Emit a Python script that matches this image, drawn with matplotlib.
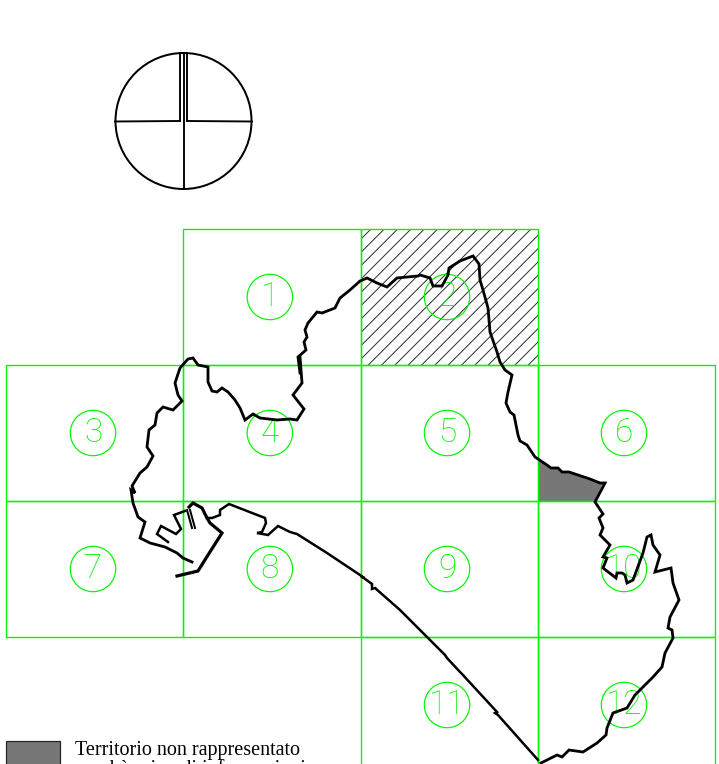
import matplotlib
matplotlib.use("Agg")
import matplotlib.pyplot as plt
from matplotlib.patches import Circle, Polygon, Rectangle

W, H, DPI = 719, 764, 120
GREEN = "#00f500"

# sheet index: left, top, width, height (map units follow the reference raster)
sheet_labels = ["1", "2", "3", "4", "5", "6", "7", "8", "9", "10", "11", "12"]
sheet_x = [183.2, 360.5, 6, 183.2, 360.5, 537.5, 6, 183.2, 360.5, 537.5, 360.5, 537.5]
sheet_y = [229, 229, 365, 365, 365, 365, 501, 501, 501, 501, 637, 637]
sheet_w = [177.3, 177, 177.2, 177.3, 177, 177, 177.2, 177.3, 177, 177, 177, 177]
sheet_h = [136, 136, 136, 136, 136, 136, 136, 136, 136, 136, 136, 136]
hatched_sheet = "2"

coast_x = [300, 302, 293, 304, 297, 290, 277, 260, 253, 245, 240, 235, 228, 222, 217, 212, 208, 208, 198, 193, 188,
           180, 175, 178, 182, 173, 163, 157, 155, 149, 147, 153, 147, 140, 132, 135, 131, 133, 138, 145, 140, 150,
           165, 177, 183, 192]
coast_y = [357, 383, 395, 409, 420, 419, 420, 418, 414, 420, 408, 400, 392, 388, 392, 391, 382, 367, 365, 358, 359,
           368, 383, 395, 401, 410, 407, 413, 425, 430, 447, 456, 467, 473, 486, 493, 490, 503, 517, 522, 538, 543,
           547, 553, 558, 562]

basin_x = [168, 157, 161, 176, 181, 174, 185]
basin_y = [542, 534, 526, 534, 529, 515, 511]

pier_a_x = [187, 192]
pier_a_y = [510, 528]
pier_b_x = [190, 195]
pier_b_y = [510, 528]

mole_x = [177, 198, 208, 222, 210, 207, 202, 193, 189]
mole_y = [576, 571, 555, 533, 523, 518, 508, 503, 507]

harbour_x = [207, 212, 220, 220, 229, 265, 266, 262, 257, 268, 278, 290, 297, 327, 360, 364, 361, 372, 372, 375, 400,
             428, 445, 447, 460, 462, 497, 495, 498, 538]
harbour_y = [518, 518, 515, 510, 504, 518, 523, 532, 533, 535, 526, 532, 534, 553, 575, 578, 576, 584, 589, 588, 610,
             638, 655, 658, 672, 674, 712, 713, 715, 760]

east_x = [541, 557, 562, 569, 583, 597, 606, 607, 613, 627, 635, 653, 662, 665, 673, 672, 668, 670, 679, 673, 671,
          655, 660, 653, 651, 647, 643, 633, 627, 625, 622, 617, 616, 603, 607, 603, 610, 600, 603, 599, 603, 595,
          605, 600, 590, 569, 562, 558, 551, 547, 538, 535, 527, 520, 518, 514, 510, 506, 508, 512, 505, 500, 497,
          490, 488, 483, 480, 479, 473, 460, 449, 448, 442, 433, 430, 420, 418, 397, 387, 377, 367, 360, 350, 340,
          335, 322, 317, 308, 305, 307, 304, 306, 298, 300]
east_y = [763, 755, 757, 750, 752, 743, 735, 728, 713, 708, 695, 677, 667, 653, 638, 630, 628, 617, 600, 583, 568,
          572, 555, 545, 535, 537, 553, 580, 583, 575, 573, 573, 578, 568, 558, 557, 545, 535, 528, 518, 514, 502,
          483, 483, 479, 472, 472, 468, 468, 465, 459, 457, 445, 441, 435, 415, 412, 403, 392, 375, 370, 362, 352,
          332, 308, 290, 280, 264, 256, 261, 268, 275, 286, 286, 278, 275, 276, 278, 287, 283, 278, 281, 290, 298,
          308, 313, 312, 323, 330, 337, 342, 350, 357, 373]

excluded_x = [538, 547, 551, 558, 562, 569, 590, 603, 595, 538]
excluded_y = [459, 465, 468, 468, 472, 472, 479, 483, 501, 501]

legend_text = ["Territorio non rappresentato", "perchè privo di informazioni"]

plt.rcParams["hatch.linewidth"] = 0.55
fig = plt.figure(figsize=((W + 0.01) / DPI, (H + 0.01) / DPI), dpi=DPI)
ax = fig.add_axes([0, 0, 1, 1])
ax.set_xlim(0, W)
ax.set_ylim(H, 0)
ax.axis("off")

PX = 72 / DPI

for lab, x, y, w, h in zip(sheet_labels, sheet_x, sheet_y, sheet_w, sheet_h):
    if lab == hatched_sheet:
        ax.add_patch(Rectangle((x, y), w, h, facecolor="none", edgecolor="#222222", hatch="///", linewidth=0, zorder=1))

ax.add_patch(Polygon(list(zip(excluded_x, excluded_y)), closed=True, facecolor="#777777", edgecolor="none", zorder=1))

for lab, x, y, w, h in zip(sheet_labels, sheet_x, sheet_y, sheet_w, sheet_h):
    ax.add_patch(Rectangle((x, y), w, h, facecolor="none", edgecolor=GREEN, linewidth=1.35 * PX, zorder=2))
    cx, cy = x + w / 2 - 2, y + h / 2
    if x == 6:
        cx = 93
    ax.add_patch(Circle((cx, cy), 22.7, facecolor="none", edgecolor=GREEN, linewidth=1.2 * PX, zorder=2))
    ax.text(cx, cy, lab, color=GREEN, ha="center", va="center", fontsize=20,
            family="Roboto", weight="light", zorder=2)

for xs, ys, lw in [(coast_x, coast_y, 2.8), (basin_x, basin_y, 2.5), (pier_a_x, pier_a_y, 2.0), (pier_b_x, pier_b_y, 2.0),
                   (mole_x, mole_y, 3.2), (harbour_x, harbour_y, 2.5), (east_x, east_y, 2.8)]:
    ax.plot(xs, ys, color="black", linewidth=lw * PX, solid_joinstyle="miter", zorder=3)

# compass sign
ax.add_patch(Circle((183.5, 121), 68, facecolor="none", edgecolor="black", linewidth=2.0 * PX, zorder=3))
compass_segments = [((115, 180), (121.5, 121)), ((187, 252), (121, 121.5)), ((179.5, 179.5), (53, 121)),
                    ((183.5, 183.5), (53, 189)), ((187, 187), (53, 121))]
for xs, ys in compass_segments:
    ax.plot(xs, ys, color="black", linewidth=1.9 * PX, zorder=3)

# legend
ax.add_patch(Rectangle((6, 741), 54, 40, facecolor="#777777", edgecolor="#222222", linewidth=1.2 * PX, zorder=3))
for i, t in enumerate(legend_text):
    ax.text(75, 754.5 + i * 19.5, t, family="Liberation Serif", fontsize=12.05, color="black", va="baseline", ha="left")

fig.savefig("out.png", dpi=DPI)
